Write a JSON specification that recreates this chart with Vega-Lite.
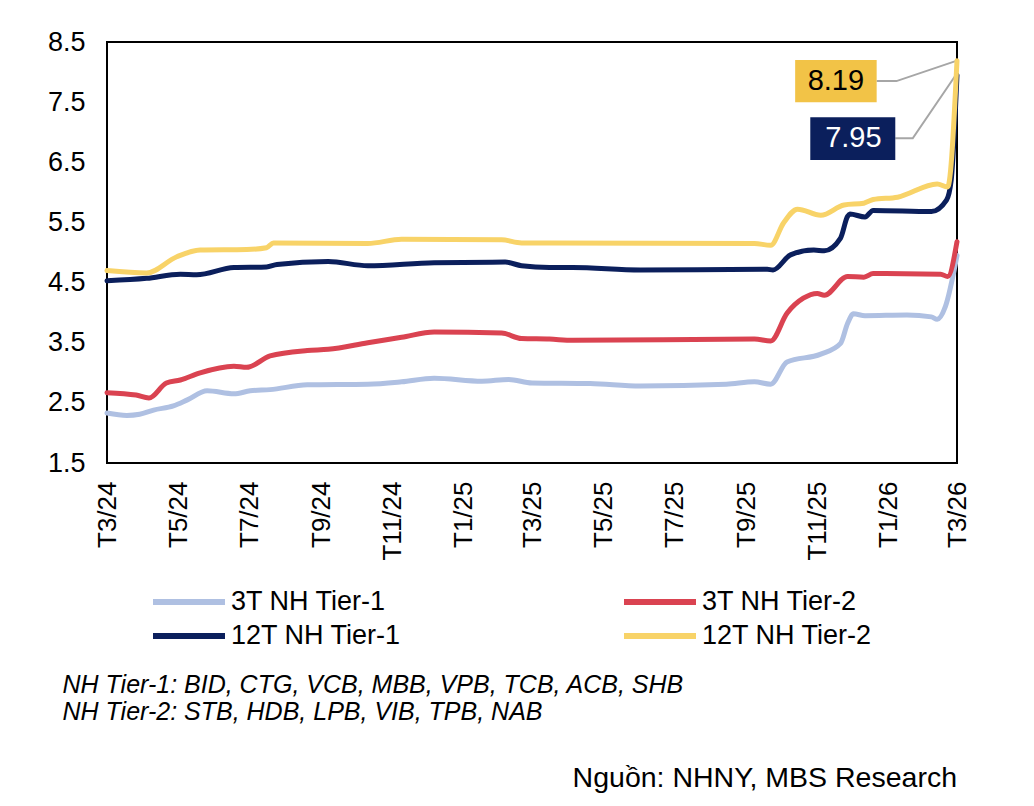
{
  "$schema": "https://vega.github.io/schema/vega-lite/v6.json",
  "width": 850,
  "height": 421,
  "autosize": {"type": "none"},
  "padding": {"left": 107, "top": 42, "right": 77, "bottom": 343},
  "background": "white",
  "config": {
    "font": "Liberation Sans",
    "view": {"stroke": "black", "strokeWidth": 2}
  },
  "title": {
    "text": "Nguồn: NHNY, MBS Research",
    "orient": "bottom",
    "anchor": "end",
    "frame": "group",
    "fontSize": 28.5,
    "fontWeight": "normal",
    "color": "black",
    "offset": 40
  },
  "datasets": {
    "rates": [
      {"d": "2024-03-01", "s": "3T NH Tier-1", "v": 2.33},
      {"d": "2024-03-18", "s": "3T NH Tier-1", "v": 2.29},
      {"d": "2024-03-29", "s": "3T NH Tier-1", "v": 2.31},
      {"d": "2024-04-10", "s": "3T NH Tier-1", "v": 2.38},
      {"d": "2024-04-27", "s": "3T NH Tier-1", "v": 2.45},
      {"d": "2024-05-09", "s": "3T NH Tier-1", "v": 2.55},
      {"d": "2024-05-26", "s": "3T NH Tier-1", "v": 2.70},
      {"d": "2024-06-18", "s": "3T NH Tier-1", "v": 2.65},
      {"d": "2024-07-02", "s": "3T NH Tier-1", "v": 2.70},
      {"d": "2024-07-19", "s": "3T NH Tier-1", "v": 2.72},
      {"d": "2024-08-20", "s": "3T NH Tier-1", "v": 2.80},
      {"d": "2024-10-11", "s": "3T NH Tier-1", "v": 2.81},
      {"d": "2024-11-09", "s": "3T NH Tier-1", "v": 2.85},
      {"d": "2024-12-07", "s": "3T NH Tier-1", "v": 2.91},
      {"d": "2025-01-17", "s": "3T NH Tier-1", "v": 2.86},
      {"d": "2025-02-09", "s": "3T NH Tier-1", "v": 2.89},
      {"d": "2025-03-01", "s": "3T NH Tier-1", "v": 2.83},
      {"d": "2025-04-20", "s": "3T NH Tier-1", "v": 2.82},
      {"d": "2025-06-02", "s": "3T NH Tier-1", "v": 2.78},
      {"d": "2025-08-15", "s": "3T NH Tier-1", "v": 2.81},
      {"d": "2025-09-08", "s": "3T NH Tier-1", "v": 2.85},
      {"d": "2025-09-22", "s": "3T NH Tier-1", "v": 2.81},
      {"d": "2025-10-06", "s": "3T NH Tier-1", "v": 3.18},
      {"d": "2025-11-04", "s": "3T NH Tier-1", "v": 3.31},
      {"d": "2025-11-21", "s": "3T NH Tier-1", "v": 3.49},
      {"d": "2025-11-27", "s": "3T NH Tier-1", "v": 3.82},
      {"d": "2025-12-02", "s": "3T NH Tier-1", "v": 3.98},
      {"d": "2025-12-12", "s": "3T NH Tier-1", "v": 3.95},
      {"d": "2026-01-17", "s": "3T NH Tier-1", "v": 3.96},
      {"d": "2026-02-07", "s": "3T NH Tier-1", "v": 3.93},
      {"d": "2026-02-12", "s": "3T NH Tier-1", "v": 3.89},
      {"d": "2026-02-19", "s": "3T NH Tier-1", "v": 4.10},
      {"d": "2026-03-01", "s": "3T NH Tier-1", "v": 4.95},

      {"d": "2024-03-01", "s": "3T NH Tier-2", "v": 2.67},
      {"d": "2024-03-26", "s": "3T NH Tier-2", "v": 2.63},
      {"d": "2024-04-06", "s": "3T NH Tier-2", "v": 2.58},
      {"d": "2024-04-21", "s": "3T NH Tier-2", "v": 2.83},
      {"d": "2024-05-03", "s": "3T NH Tier-2", "v": 2.88},
      {"d": "2024-05-20", "s": "3T NH Tier-2", "v": 3.00},
      {"d": "2024-06-18", "s": "3T NH Tier-2", "v": 3.11},
      {"d": "2024-06-29", "s": "3T NH Tier-2", "v": 3.09},
      {"d": "2024-07-19", "s": "3T NH Tier-2", "v": 3.28},
      {"d": "2024-08-20", "s": "3T NH Tier-2", "v": 3.37},
      {"d": "2024-09-07", "s": "3T NH Tier-2", "v": 3.39},
      {"d": "2024-10-11", "s": "3T NH Tier-2", "v": 3.50},
      {"d": "2024-11-09", "s": "3T NH Tier-2", "v": 3.59},
      {"d": "2024-12-07", "s": "3T NH Tier-2", "v": 3.68},
      {"d": "2025-02-03", "s": "3T NH Tier-2", "v": 3.66},
      {"d": "2025-02-20", "s": "3T NH Tier-2", "v": 3.57},
      {"d": "2025-03-16", "s": "3T NH Tier-2", "v": 3.56},
      {"d": "2025-04-05", "s": "3T NH Tier-2", "v": 3.54},
      {"d": "2025-09-08", "s": "3T NH Tier-2", "v": 3.56},
      {"d": "2025-09-22", "s": "3T NH Tier-2", "v": 3.53},
      {"d": "2025-10-06", "s": "3T NH Tier-2", "v": 3.99},
      {"d": "2025-10-20", "s": "3T NH Tier-2", "v": 4.24},
      {"d": "2025-11-01", "s": "3T NH Tier-2", "v": 4.32},
      {"d": "2025-11-07", "s": "3T NH Tier-2", "v": 4.29},
      {"d": "2025-11-27", "s": "3T NH Tier-2", "v": 4.60},
      {"d": "2025-12-11", "s": "3T NH Tier-2", "v": 4.59},
      {"d": "2025-12-19", "s": "3T NH Tier-2", "v": 4.65},
      {"d": "2026-02-15", "s": "3T NH Tier-2", "v": 4.64},
      {"d": "2026-02-21", "s": "3T NH Tier-2", "v": 4.60},
      {"d": "2026-03-01", "s": "3T NH Tier-2", "v": 5.18},

      {"d": "2024-03-01", "s": "12T NH Tier-1", "v": 4.53},
      {"d": "2024-04-04", "s": "12T NH Tier-1", "v": 4.57},
      {"d": "2024-05-03", "s": "12T NH Tier-1", "v": 4.64},
      {"d": "2024-05-17", "s": "12T NH Tier-1", "v": 4.63},
      {"d": "2024-06-18", "s": "12T NH Tier-1", "v": 4.75},
      {"d": "2024-07-16", "s": "12T NH Tier-1", "v": 4.76},
      {"d": "2024-07-25", "s": "12T NH Tier-1", "v": 4.80},
      {"d": "2024-09-07", "s": "12T NH Tier-1", "v": 4.85},
      {"d": "2024-10-11", "s": "12T NH Tier-1", "v": 4.78},
      {"d": "2024-12-07", "s": "12T NH Tier-1", "v": 4.83},
      {"d": "2025-02-06", "s": "12T NH Tier-1", "v": 4.84},
      {"d": "2025-02-20", "s": "12T NH Tier-1", "v": 4.78},
      {"d": "2025-03-16", "s": "12T NH Tier-1", "v": 4.75},
      {"d": "2025-04-05", "s": "12T NH Tier-1", "v": 4.75},
      {"d": "2025-06-02", "s": "12T NH Tier-1", "v": 4.71},
      {"d": "2025-09-19", "s": "12T NH Tier-1", "v": 4.72},
      {"d": "2025-09-24", "s": "12T NH Tier-1", "v": 4.71},
      {"d": "2025-10-09", "s": "12T NH Tier-1", "v": 4.96},
      {"d": "2025-10-29", "s": "12T NH Tier-1", "v": 5.04},
      {"d": "2025-11-07", "s": "12T NH Tier-1", "v": 5.03},
      {"d": "2025-11-21", "s": "12T NH Tier-1", "v": 5.24},
      {"d": "2025-11-27", "s": "12T NH Tier-1", "v": 5.60},
      {"d": "2025-11-29", "s": "12T NH Tier-1", "v": 5.64},
      {"d": "2025-12-12", "s": "12T NH Tier-1", "v": 5.59},
      {"d": "2025-12-19", "s": "12T NH Tier-1", "v": 5.70},
      {"d": "2026-02-07", "s": "12T NH Tier-1", "v": 5.68},
      {"d": "2026-02-20", "s": "12T NH Tier-1", "v": 5.87},
      {"d": "2026-02-24", "s": "12T NH Tier-1", "v": 6.20},
      {"d": "2026-03-01", "s": "12T NH Tier-1", "v": 7.95},

      {"d": "2024-03-01", "s": "12T NH Tier-2", "v": 4.70},
      {"d": "2024-04-04", "s": "12T NH Tier-2", "v": 4.66},
      {"d": "2024-04-30", "s": "12T NH Tier-2", "v": 4.93},
      {"d": "2024-05-20", "s": "12T NH Tier-2", "v": 5.04},
      {"d": "2024-06-29", "s": "12T NH Tier-2", "v": 5.05},
      {"d": "2024-07-16", "s": "12T NH Tier-2", "v": 5.08},
      {"d": "2024-07-22", "s": "12T NH Tier-2", "v": 5.16},
      {"d": "2024-10-11", "s": "12T NH Tier-2", "v": 5.15},
      {"d": "2024-11-09", "s": "12T NH Tier-2", "v": 5.22},
      {"d": "2025-02-03", "s": "12T NH Tier-2", "v": 5.21},
      {"d": "2025-02-20", "s": "12T NH Tier-2", "v": 5.16},
      {"d": "2025-03-16", "s": "12T NH Tier-2", "v": 5.16},
      {"d": "2025-09-08", "s": "12T NH Tier-2", "v": 5.15},
      {"d": "2025-09-22", "s": "12T NH Tier-2", "v": 5.12},
      {"d": "2025-10-03", "s": "12T NH Tier-2", "v": 5.49},
      {"d": "2025-10-15", "s": "12T NH Tier-2", "v": 5.72},
      {"d": "2025-11-04", "s": "12T NH Tier-2", "v": 5.62},
      {"d": "2025-11-24", "s": "12T NH Tier-2", "v": 5.79},
      {"d": "2025-12-11", "s": "12T NH Tier-2", "v": 5.82},
      {"d": "2025-12-19", "s": "12T NH Tier-2", "v": 5.88},
      {"d": "2026-01-09", "s": "12T NH Tier-2", "v": 5.92},
      {"d": "2026-02-12", "s": "12T NH Tier-2", "v": 6.14},
      {"d": "2026-02-21", "s": "12T NH Tier-2", "v": 6.09},
      {"d": "2026-03-01", "s": "12T NH Tier-2", "v": 8.19}
    ],
    "leaders": [
      {"k": "t2", "o": 1, "d": "2025-12-22", "v": 7.85},
      {"k": "t2", "o": 2, "d": "2026-01-08", "v": 7.85},
      {"k": "t2", "o": 3, "d": "2026-03-01", "v": 8.19},
      {"k": "t1", "o": 1, "d": "2026-01-07", "v": 6.90},
      {"k": "t1", "o": 2, "d": "2026-01-22", "v": 6.90},
      {"k": "t1", "o": 3, "d": "2026-03-01", "v": 7.98}
    ],
    "boxes": [
      {"k": "t2", "x1": "2025-10-13", "x2": "2025-12-22", "y1": 8.20, "y2": 7.50, "xc": "2025-11-17", "yc": 7.85, "lab": "8.19"},
      {"k": "t1", "x1": "2025-10-26", "x2": "2026-01-07", "y1": 7.25, "y2": 6.54, "xc": "2025-12-02", "yc": 6.90, "lab": "7.95"}
    ]
  },
  "layer": [
    {
      "data": {"name": "leaders"},
      "mark": {"type": "line", "color": "#A6A6A6", "strokeWidth": 2},
      "encoding": {
        "x": {"field": "d", "type": "temporal"},
        "y": {"field": "v", "type": "quantitative"},
        "detail": {"field": "k"},
        "order": {"field": "o"}
      }
    },
    {
      "data": {"name": "rates"},
      "mark": {"type": "line", "strokeWidth": 5, "interpolate": "monotone", "strokeCap": "round", "strokeJoin": "round"},
      "encoding": {
        "x": {
          "field": "d",
          "type": "temporal",
          "scale": {
            "type": "utc",
            "domain": [
              {"year": 2024, "month": 3, "date": 1, "utc": true},
              {"year": 2026, "month": 3, "date": 1, "utc": true}
            ]
          },
          "axis": {
            "values": [
              {"year": 2024, "month": 3, "date": 1, "utc": true},
              {"year": 2024, "month": 5, "date": 1, "utc": true},
              {"year": 2024, "month": 7, "date": 1, "utc": true},
              {"year": 2024, "month": 9, "date": 1, "utc": true},
              {"year": 2024, "month": 11, "date": 1, "utc": true},
              {"year": 2025, "month": 1, "date": 1, "utc": true},
              {"year": 2025, "month": 3, "date": 1, "utc": true},
              {"year": 2025, "month": 5, "date": 1, "utc": true},
              {"year": 2025, "month": 7, "date": 1, "utc": true},
              {"year": 2025, "month": 9, "date": 1, "utc": true},
              {"year": 2025, "month": 11, "date": 1, "utc": true},
              {"year": 2026, "month": 1, "date": 1, "utc": true},
              {"year": 2026, "month": 3, "date": 1, "utc": true}
            ],
            "labelExpr": "'T' + (utcmonth(datum.value) + 1) + '/' + utcFormat(datum.value, '%y')",
            "labelAngle": -90,
            "labelAlign": "right",
            "labelBaseline": "middle",
            "labelFontSize": 26,
            "labelColor": "black",
            "labelPadding": 18,
            "labelOverlap": false,
            "labelBound": false,
            "labelFlush": false,
            "ticks": false,
            "domain": false,
            "grid": false,
            "title": ["NH Tier-1: BID, CTG, VCB, MBB, VPB, TCB, ACB, SHB", "NH Tier-2: STB, HDB, LPB, VIB, TPB, NAB"],
            "titleFontStyle": "italic",
            "titleFontWeight": "normal",
            "titleFontSize": 25,
            "titleLineHeight": 27,
            "titleColor": "black",
            "titleAnchor": "start",
            "titleAlign": "left",
            "titleX": -45,
            "titlePadding": 112
          }
        },
        "y": {
          "field": "v",
          "type": "quantitative",
          "scale": {"domain": [1.5, 8.5], "nice": false, "zero": false},
          "axis": {
            "values": [1.5, 2.5, 3.5, 4.5, 5.5, 6.5, 7.5, 8.5],
            "labelFontSize": 27,
            "labelColor": "black",
            "labelPadding": 22,
            "ticks": false,
            "domain": false,
            "grid": false,
            "title": null
          }
        },
        "color": {
          "field": "s",
          "type": "nominal",
          "sort": ["3T NH Tier-1", "3T NH Tier-2", "12T NH Tier-1", "12T NH Tier-2"],
          "scale": {
            "domain": ["3T NH Tier-1", "3T NH Tier-2", "12T NH Tier-1", "12T NH Tier-2"],
            "range": ["#AFC0E2", "#DA4351", "#0B1F5C", "#F8D368"]
          },
          "legend": {
            "title": null,
            "orient": "none",
            "legendX": 61,
            "legendY": 539,
            "direction": "horizontal",
            "columns": 2,
            "columnPadding": 210,
            "rowPadding": 0,
            "symbolType": "M-2,0H2",
            "symbolSize": 1296,
            "symbolStrokeWidth": 6,
            "labelFontSize": 27,
            "labelColor": "black",
            "labelOffset": 21,
            "labelLimit": 400
          }
        }
      }
    },
    {
      "data": {"name": "boxes"},
      "mark": {"type": "rect"},
      "encoding": {
        "x": {"field": "x1", "type": "temporal"},
        "x2": {"field": "x2"},
        "y": {"field": "y1", "type": "quantitative"},
        "y2": {"field": "y2"},
        "fill": {
          "field": "k",
          "type": "nominal",
          "scale": {"domain": ["t2", "t1"], "range": ["#F2C347", "#0B1F5C"]},
          "legend": null
        }
      }
    },
    {
      "data": {"name": "boxes"},
      "mark": {"type": "text", "fontSize": 29, "align": "center", "baseline": "middle"},
      "encoding": {
        "x": {"field": "xc", "type": "temporal"},
        "y": {"field": "yc", "type": "quantitative"},
        "text": {"field": "lab"},
        "color": {
          "field": "k",
          "type": "nominal",
          "scale": {"domain": ["t2", "t1"], "range": ["#000000", "#FFFFFF"]},
          "legend": null
        }
      }
    }
  ],
  "resolve": {"scale": {"color": "independent", "fill": "independent"}}
}
